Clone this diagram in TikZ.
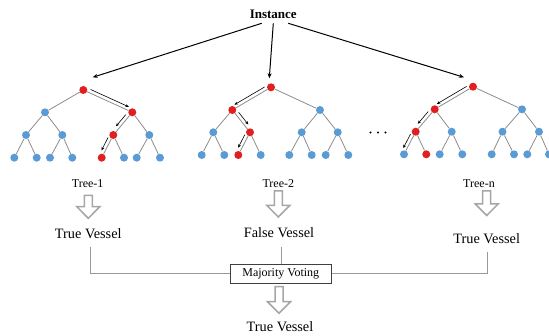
\documentclass[tikz,border=0pt]{standalone}
\usepackage{fontspec}
\setmainfont{Liberation Serif}
\usetikzlibrary{calc,arrows.meta}
\definecolor{nblue}{HTML}{5B9BD5}
\definecolor{nred}{HTML}{E02020}
\definecolor{edgegray}{HTML}{8C8C8C}
\definecolor{hgray}{HTML}{A6A6A6}
\definecolor{cgray}{HTML}{999999}
\tikzset{
  bn/.style={circle,fill=nblue,inner sep=0pt,minimum size=8pt},
  rn/.style={circle,fill=nred,inner sep=0pt,minimum size=8pt},
  tedge/.style={draw=edgegray,line width=0.8pt},
  tarrow/.style={draw=black,line width=0.6pt,-{Stealth[length=3.5pt,width=3pt]}},
  iarrow/.style={draw=black,line width=1pt,-{Stealth[length=5pt,width=4pt]}},
  hollow/.style={draw=hgray,fill=white,line width=1.5pt,line join=miter},
  conn/.style={draw=cgray,line width=0.9pt},
  treelbl/.style={font=\fontsize{12}{14}\selectfont,inner sep=0pt},
  vlbl/.style={font=\fontsize{14.3}{16}\selectfont,inner sep=0pt},
}
\newcommand\hollowarrow[3]{%
  \draw[hollow] (#1-4,#2) -- (#1+4,#2) -- (#1+4,#3-11.6) -- (#1+11.5,#3-11.6) -- (#1,#3) -- (#1-11.5,#3-11.6) -- (#1-4,#3-11.6) -- cycle;}
\newcommand\trarrow[5]{%
  \draw[tarrow] ($(#1.center)!#4!(#2.center)!3.5pt!#3:(#2.center)$) -- ($(#1.center)!#5!(#2.center)!3.5pt!#3:(#2.center)$);}
\begin{document}
\begin{tikzpicture}[x=1pt,y=-1pt]
\useasboundingbox (0,0) rectangle (549,336);
% ---------- Tree 1 ----------
\node[rn] (t1r) at (83.3,90) {};
\node[bn] (t1a) at (45,112.3) {};
\node[rn] (t1b) at (132.3,112.3) {};
\node[bn] (t1aa) at (26,135) {};
\node[bn] (t1ab) at (62.3,135) {};
\node[rn] (t1ba) at (113.3,135) {};
\node[bn] (t1bb) at (149.3,135) {};
\node[bn] (t1aaa) at (14.3,157.7) {};
\node[bn] (t1aab) at (36.7,157.7) {};
\node[bn] (t1aba) at (50,157.7) {};
\node[bn] (t1abb) at (72.3,157.7) {};
\node[rn] (t1baa) at (101.7,157.7) {};
\node[bn] (t1bab) at (124,157.7) {};
\node[bn] (t1bba) at (136.7,157.7) {};
\node[bn] (t1bbb) at (160,157.7) {};
% ---------- Tree 2 ----------
\node[rn] (t2r) at (271,87.3) {};
\node[rn] (t2a) at (232.3,110) {};
\node[bn] (t2b) at (320,110) {};
\node[bn] (t2aa) at (213.3,132.3) {};
\node[rn] (t2ab) at (250,132.3) {};
\node[bn] (t2ba) at (301.7,132.3) {};
\node[bn] (t2bb) at (337.7,132.3) {};
\node[bn] (t2aaa) at (201.7,155) {};
\node[bn] (t2aab) at (224.3,155) {};
\node[rn] (t2aba) at (238.3,155) {};
\node[bn] (t2abb) at (260.7,155) {};
\node[bn] (t2baa) at (289.3,155) {};
\node[bn] (t2bab) at (311.7,155) {};
\node[bn] (t2bba) at (325.7,155) {};
\node[bn] (t2bbb) at (348.3,155) {};
% ---------- Tree n ----------
\node[rn] (tnr) at (473,86.7) {};
\node[rn] (tna) at (434.7,109.3) {};
\node[bn] (tnb) at (522,109.3) {};
\node[rn] (tnaa) at (415.7,131.7) {};
\node[bn] (tnab) at (451.7,131.7) {};
\node[bn] (tnba) at (502.5,131.7) {};
\node[bn] (tnbb) at (539,131.7) {};
\node[bn] (tnaaa) at (404,154.3) {};
\node[rn] (tnaab) at (426.3,154.3) {};
\node[bn] (tnaba) at (439.7,154.3) {};
\node[bn] (tnabb) at (462.3,154.3) {};
\node[bn] (tnbaa) at (491.7,154.3) {};
\node[bn] (tnbab) at (514,154.3) {};
\node[bn] (tnbba) at (527.3,154.3) {};
\node[bn] (tnbbb) at (549,154.3) {};
% ---------- edges ----------
\foreach \t in {t1,t2,tn}{
  \draw[tedge] (\t r) -- (\t a);
  \draw[tedge] (\t r) -- (\t b);
  \foreach \p in {a,b}{
    \draw[tedge] (\t\p) -- (\t\p a);
    \draw[tedge] (\t\p) -- (\t\p b);
    \foreach \q in {a,b}{
      \draw[tedge] (\t\p\q) -- (\t\p\q a);
      \draw[tedge] (\t\p\q) -- (\t\p\q b);
    }
  }
}
% ---------- path arrows ----------
\trarrow{t1r}{t1b}{90}{0.12}{0.9}
\trarrow{t1b}{t1ba}{-90}{0.2}{0.72}
\trarrow{t1ba}{t1baa}{-90}{0.18}{0.75}
\trarrow{t2r}{t2a}{-90}{0.12}{0.9}
\trarrow{t2a}{t2ab}{90}{0.2}{0.75}
\trarrow{t2ab}{t2aba}{-90}{0.18}{0.75}
\trarrow{tnr}{tna}{-90}{0.12}{0.9}
\trarrow{tna}{tnaa}{-90}{0.2}{0.75}
\trarrow{tnaa}{tnaaa}{-90}{0.18}{0.8}
% ---------- dots ----------
\foreach \x in {370.5,378,385.5} \fill (\x,132.5) circle (1.1pt);
% ---------- instance ----------
\node[font=\fontsize{13}{15}\selectfont\bfseries,inner sep=0pt] (inst) at (273.3,14) {Instance};
\coordinate (i1s) at (261.7,23.3);
\coordinate (i2s) at (273.3,23.3);
\coordinate (i3s) at (288.3,23.3);
\coordinate (i1e) at (92.7,77.3);
\coordinate (i2e) at (269.3,78.3);
\coordinate (i3e) at (464,77.3);
\draw[iarrow] (i1s) -- (i1e);
\draw[iarrow] (i2s) -- (i2e);
\draw[iarrow] (i3s) -- (i3e);
% ---------- labels ----------
\node[treelbl] (l1) at (87.7,183.3) {Tree-1};
\node[treelbl] (l2) at (278.3,183.3) {Tree-2};
\node[treelbl] (ln) at (479,183.3) {Tree-n};
\hollowarrow{88.3}{195.5}{218.3}
\hollowarrow{278.3}{191}{217}
\hollowarrow{486.7}{191}{215.5}
\node[vlbl] (v1) at (88.3,233.3) {True Vessel};
\node[vlbl] (v2) at (279,232.3) {False Vessel};
\node[vlbl] (v3) at (486.7,238.3) {True Vessel};
% ---------- majority voting ----------
\node[draw=black!75,line width=0.8pt,minimum width=101.7pt,minimum height=19pt,inner sep=0pt,font=\fontsize{12}{14}\selectfont] (mv) at (280.8,273.8) {Majority Voting};
\coordinate (v1b) at (90,247);
\coordinate (v2b) at (281,247);
\coordinate (v3b) at (487.3,251.7);
\draw[conn] (v1b) |- (mv.west);
\draw[conn] (v2b) -- (v2b |- mv.north);
\draw[conn] (v3b) |- (mv.east);
\hollowarrow{279}{286.7}{313.3}
\node[vlbl] (res) at (280,326.7) {True Vessel};
\end{tikzpicture}
\end{document}
